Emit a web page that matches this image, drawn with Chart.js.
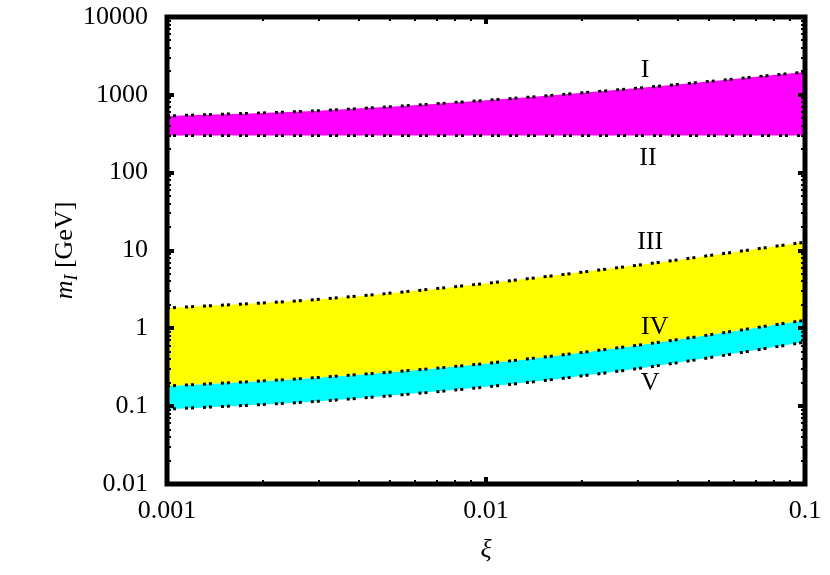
<!DOCTYPE html>
<html>
<head>
<meta charset="utf-8">
<script src="https://cdn.jsdelivr.net/npm/chart.js@4.4.1/dist/chart.umd.min.js"></script>
<style>
  html, body { margin: 0; padding: 0; background: #fff; }
  #wrap { width: 830px; height: 575px; }
</style>
</head>
<body>
<div id="wrap"><canvas id="massChart" width="830" height="575"></canvas></div>
<script>
// values
const xi = [0.001, 0.003, 0.01, 0.03, 0.1];
const curveI   = [535, 626, 849, 1222, 1963];
const curveII  = [300, 300, 300, 300, 300];
const curveIII = [1.82, 2.36, 3.78, 6.49, 12.8];
const curveIV  = [0.181, 0.234, 0.354, 0.608, 1.27];
const curveV   = [0.0915, 0.116, 0.177, 0.305, 0.665];

const xTicks = [0.001, 0.01, 0.1];
const yTicks = [0.01, 0.1, 1, 10, 100, 1000, 10000];

const curveNames = ['I', 'II', 'III', 'IV', 'V'];
const labelX = [0.0315, 0.0322, 0.0327, 0.0338, 0.0327];
const labelY = [2085, 154, 12.8, 1.03, 0.198];

const SERIF = '"Liberation Serif", "Times New Roman", Times, serif';
const pts = ys => xi.map((x, i) => ({ x: x, y: ys[i] }));

function curve(label, ys, fill, color) {
  return {
    label: label,
    data: pts(ys),
    borderColor: '#000',
    borderWidth: 3,
    borderDash: [3, 3, 3, 9],
    borderCapStyle: 'butt',
    pointRadius: 0,
    cubicInterpolationMode: 'monotone',
    fill: fill,
    backgroundColor: color
  };
}

// frame, inward ticks, curve names and the y title
const decor = {
  id: 'decor',
  afterDraw(chart) {
    const { ctx, chartArea: a, scales } = chart;
    const sx = scales.x, sy = scales.y;
    ctx.save();
    ctx.fillStyle = '#000';
    // minor + major ticks on all four sides
    for (let d = -3; d < -1; d++) {
      for (let m = 1; m <= 10; m++) {
        const v = m * Math.pow(10, d);
        const px = Math.round(sx.getPixelForValue(v));
        const major = (m === 1 || m === 10);
        const len = major ? 7 : 4, w = major ? 4 : 2;
        ctx.fillRect(px - w / 2, a.bottom - len, w, len);
        ctx.fillRect(px - w / 2, a.top, w, len);
      }
    }
    for (let d = -2; d < 4; d++) {
      for (let m = 1; m <= 10; m++) {
        const v = m * Math.pow(10, d);
        const py = Math.round(sy.getPixelForValue(v));
        const major = (m === 1 || m === 10);
        const len = major ? 7 : 4, w = major ? 4 : 2;
        ctx.fillRect(a.left, py - w / 2, len, w);
        ctx.fillRect(a.right - len, py - w / 2, len, w);
      }
    }
    ctx.lineWidth = 5;
    ctx.strokeStyle = '#000';
    ctx.strokeRect(a.left, a.top, a.right - a.left, a.bottom - a.top);

    // curve names
    ctx.font = '26px ' + SERIF;
    ctx.textAlign = 'center';
    ctx.textBaseline = 'middle';
    curveNames.forEach((n, i) => {
      ctx.fillText(n, sx.getPixelForValue(labelX[i]), sy.getPixelForValue(labelY[i]));
    });

    // y title: m_I [GeV]
    ctx.translate(63, (a.top + a.bottom) / 2);
    ctx.rotate(-Math.PI / 2);
    ctx.textAlign = 'left';
    ctx.textBaseline = 'alphabetic';
    const fM = 'italic 26px ' + SERIF, fS = 'italic 18px ' + SERIF, fN = '26px ' + SERIF;
    ctx.font = fM; const wM = ctx.measureText('m').width;
    ctx.font = fS; const wS = ctx.measureText('I').width;
    ctx.font = fN; const wN = ctx.measureText(' [GeV]').width;
    let x0 = -(wM + wS + wN) / 2;
    const base = 9;
    ctx.font = fM; ctx.fillText('m', x0, base); x0 += wM;
    ctx.font = fS; ctx.fillText('I', x0, base + 5); x0 += wS;
    ctx.font = fN; ctx.fillText(' [GeV]', x0, base);
    ctx.restore();
  }
};

function draw() {
  new Chart(document.getElementById('massChart'), {
    type: 'line',
    data: {
      datasets: [
        curve('I', curveI, '+1', '#ff00ff'),
        curve('II', curveII, false, 'transparent'),
        curve('III', curveIII, '+1', '#ffff00'),
        curve('IV', curveIV, '+1', '#00ffff'),
        curve('V', curveV, false, 'transparent')
      ]
    },
    options: {
      responsive: false,
      animation: false,
      layout: { padding: { left: 0, top: 17, right: 25, bottom: 0 } },
      plugins: {
        legend: { display: false },
        tooltip: { enabled: false },
        filler: { drawTime: 'beforeDatasetsDraw' }
      },
      scales: {
        x: {
          type: 'logarithmic',
          min: 0.001, max: 0.1,
          afterBuildTicks: s => { s.ticks = xTicks.map(v => ({ value: v })); },
          afterFit: s => { s.height = 91; s.paddingLeft = 0; s.paddingRight = 0; },
          grid: { display: false, drawTicks: false },
          border: { display: false },
          ticks: {
            color: '#000', padding: 12, maxRotation: 0, autoSkip: false,
            font: { family: SERIF, size: 26 },
            callback: v => String(v)
          },
          title: {
            display: true, text: 'ξ', color: '#000',
            font: { family: SERIF, size: 26, style: 'italic' },
            padding: { top: 0, bottom: 9 }
          }
        },
        y: {
          type: 'logarithmic',
          min: 0.01, max: 10000,
          afterBuildTicks: s => { s.ticks = yTicks.map(v => ({ value: v })); },
          afterFit: s => { s.width = 167; s.paddingTop = 0; s.paddingBottom = 0; },
          grid: { display: false, drawTicks: false },
          border: { display: false },
          ticks: {
            color: '#000', padding: 19, autoSkip: false,
            font: { family: SERIF, size: 26 },
            callback: v => String(v)
          }
        }
      }
    },
    plugins: [decor]
  });
}

Promise.all([
  document.fonts.load('26px "Liberation Serif"'),
  document.fonts.load('italic 26px "Liberation Serif"')
]).then(draw, draw);
</script>
</body>
</html>
